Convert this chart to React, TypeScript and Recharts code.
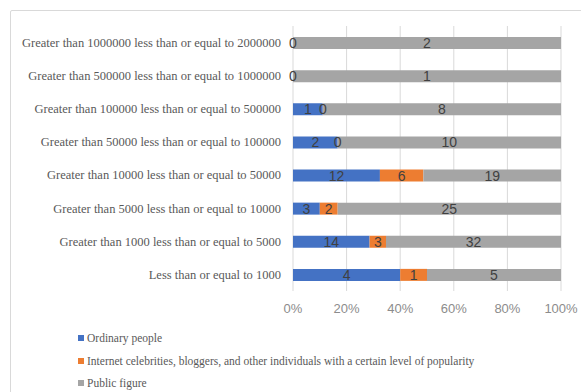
import React from "react";
import { BarChart, Bar, XAxis, YAxis, CartesianGrid, LabelList } from "recharts";

const categories = [
  "Greater than 1000000 less than or equal to 2000000",
  "Greater than 500000 less than or equal to 1000000",
  "Greater than 100000 less than or equal to 500000",
  "Greater than 50000 less than or equal to 100000",
  "Greater than 10000 less than or equal to 50000",
  "Greater than 5000 less than or equal to 10000",
  "Greater than 1000 less than or equal to 5000",
  "Less than or equal to 1000",
];

const ordinaryPeople = [0, 0, 1, 2, 12, 3, 14, 4];
const internetCelebrities: (number | null)[] = [null, null, 0, 0, 6, 2, 3, 1];
const publicFigure = [2, 1, 8, 10, 19, 25, 32, 5];

const xTicks = [0, 0.2, 0.4, 0.6, 0.8, 1];

const seriesInfo = [
  { key: "ordinary", name: "Ordinary people", color: "#4472C4" },
  {
    key: "internet",
    name: "Internet celebrities, bloggers, and other individuals with a certain level of popularity",
    color: "#ED7D31",
  },
  { key: "publicFigure", name: "Public figure", color: "#A5A5A5" },
];

const data = categories.map((c, i) => ({
  category: c,
  ordinary: ordinaryPeople[i],
  internet: internetCelebrities[i],
  publicFigure: publicFigure[i],
}));

const serif = '"Liberation Serif", "Times New Roman", serif';
const sans = '"Liberation Sans", Arial, sans-serif';

// Category names on one line, right-aligned against the plot.
const CategoryTick = (props: any) => {
  const { x, y, payload } = props;
  return (
    <text
      x={x}
      y={y}
      dy="0.35em"
      textAnchor="end"
      fill="#595959"
      fontSize={12.5}
      fontFamily={serif}
    >
      {payload.value}
    </text>
  );
};

// Value label centred on its segment; zero values are still printed.
const SegmentLabel = (props: any) => {
  const { x, y, width, height, value } = props;
  if (value === null || value === undefined) return null;
  return (
    <text
      x={Number(x) + Number(width) / 2}
      y={Number(y) + Number(height) / 2}
      dy="0.36em"
      textAnchor="middle"
      fill="#404040"
      fontSize={14}
      fontFamily={sans}
    >
      {value}
    </text>
  );
};

export default function App() {
  return (
    <div
      style={{
        position: "absolute",
        left: 0,
        top: 0,
        width: 581,
        height: 392,
        overflow: "hidden",
        background: "#fff",
      }}
    >
      <div
        style={{
          position: "absolute",
          left: 10,
          top: 10,
          width: 640,
          height: 440,
          border: "1px solid #d9d9d9",
          borderRadius: 2,
        }}
      />
      <div style={{ position: "absolute", left: 0, top: 0 }}>
        <BarChart
          width={581}
          height={392}
          data={data}
          layout="vertical"
          stackOffset="expand"
          barSize={12}
          margin={{ top: 26, right: 20, bottom: 71, left: 0 }}
        >
          <CartesianGrid horizontal={false} stroke="#d9d9d9" />
          <XAxis
            type="number"
            domain={[0, 1]}
            ticks={xTicks}
            tickFormatter={(v: number) => `${Math.round(v * 100)}%`}
            axisLine={false}
            tickLine={false}
            tickSize={8}
            tickMargin={5}
            height={30}
            tick={{ fill: "#8c8c8c", fontSize: 13, fontFamily: sans }}
            interval={0}
          />
          <YAxis
            type="category"
            dataKey="category"
            width={293}
            axisLine={false}
            tickLine={false}
            tickSize={8}
            tickMargin={4}
            interval={0}
            tick={<CategoryTick />}
          />
          {seriesInfo.map((s) => (
            <Bar
              key={s.key}
              dataKey={s.key}
              name={s.name}
              stackId="a"
              fill={s.color}
              minPointSize={0.01}
              isAnimationActive={false}
            >
              <LabelList dataKey={s.key} content={<SegmentLabel />} />
            </Bar>
          ))}
        </BarChart>
      </div>
      <div
        style={{
          position: "absolute",
          left: 78,
          top: 327,
          fontFamily: serif,
          fontSize: 11.5,
          color: "#595959",
        }}
      >
        {seriesInfo.map((s) => (
          <div
            key={s.key}
            style={{ display: "flex", alignItems: "center", height: 22.5 }}
          >
            <span
              style={{
                display: "inline-block",
                width: 6,
                height: 6,
                background: s.color,
                marginRight: 3,
              }}
            />
            <span>{s.name}</span>
          </div>
        ))}
      </div>
    </div>
  );
}
